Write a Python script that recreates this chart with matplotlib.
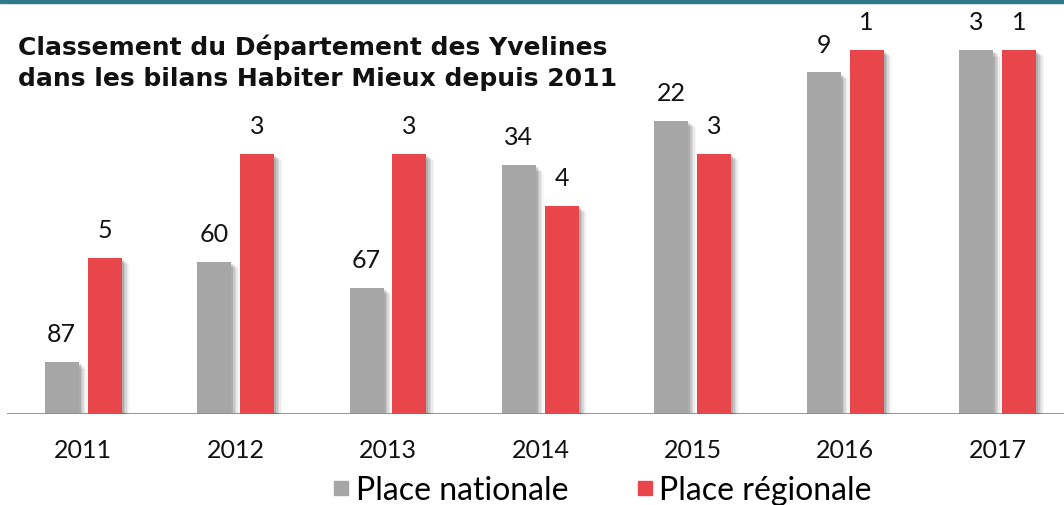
import matplotlib
matplotlib.use("Agg")
import matplotlib.pyplot as plt
from matplotlib.patches import Rectangle
from matplotlib.lines import Line2D
import numpy as np

years = ["2011", "2012", "2013", "2014", "2015", "2016", "2017"]
rang_national = [87, 60, 67, 34, 22, 9, 3]
rang_regional = [5, 3, 3, 4, 3, 1, 1]
series_names = ["Place nationale", "Place régionale"]
title = "Classement du Département des Yvelines\ndans les bilans Habiter Mieux depuis 2011"

GRAY = "#A6A6A6"
RED = "#E8464B"
TEAL = "#2E7A8C"
LABEL_FONT = ["Lato", "DejaVu Sans"]

W, H = 1064, 506
fig = plt.figure(figsize=(W / 100, H / 100), dpi=100)
fig.patch.set_facecolor("white")

# top teal rule
fig.patches.append(Rectangle((0, 1 - 4 / H), 1, 4 / H, transform=fig.transFigure,
                             color=TEAL, zorder=0))

base_px = 415
ax = fig.add_axes([7 / W, (H - base_px) / H, 1 - 7 / W, base_px / H])
ax2 = ax.twinx()

x = np.arange(len(years))
n_max = 101
r_max = 8
nat_h = [n_max - r for r in rang_national]
reg_h = [r_max - r for r in rang_regional]

px_unit = 152.4
bw = 34 / px_unit
off = 21.5 / px_unit
ax.set_xlim(-0.5, (W - 7) / px_unit - 0.5)
ax.set_ylim(0, base_px / 364 * 98)
ax2.set_ylim(0, base_px / 364 * 7)

# soft shadows
for k, a in enumerate([0.12, 0.09, 0.07, 0.05, 0.03]):
    d = (2 + k * 1.5) / px_unit
    ax.bar(x - off + d, nat_h, width=bw, color="black", alpha=a, zorder=1,
           bottom=-0.6 - k * 0.3)
    ax2.bar(x + off + d, reg_h, width=bw, color="black", alpha=a, zorder=1,
            bottom=-0.04 - k * 0.02)

ax.bar(x - off, nat_h, width=bw, color=GRAY, zorder=3)
ax2.bar(x + off, reg_h, width=bw, color=RED, zorder=3)

for xi, h, r in zip(x, nat_h, rang_national):
    ax.annotate(str(r), (xi - off, h), xytext=(0, 12), textcoords="offset points",
                ha="center", va="bottom", fontsize=18, family=LABEL_FONT,
                color="#111111", annotation_clip=False)
for xi, h, r in zip(x, reg_h, rang_regional):
    ax2.annotate(str(r), (xi + off, h), xytext=(0, 12), textcoords="offset points",
                 ha="center", va="bottom", fontsize=18, family=LABEL_FONT,
                 color="#111111", annotation_clip=False)

for a in (ax, ax2):
    for s in a.spines.values():
        s.set_visible(False)
    a.set_yticks([])
    a.patch.set_visible(False)
ax.axhline(0, color="#8C8C8C", lw=2, zorder=4)
ax.set_xticks(x)
ax.set_xticklabels(years, fontsize=18, family=LABEL_FONT, color="#111111")
ax.tick_params(axis="x", length=0, pad=17)
ax2.tick_params(axis="x", length=0)

fig.text(18 / W, 1 - 34 / H, title, ha="left", va="top", fontsize=18,
         fontweight="bold", family=["DejaVu Sans"], color="#111111", linespacing=1.42)

handles = [Line2D([], [], marker="s", ls="", color=GRAY, markersize=10),
           Line2D([], [], marker="s", ls="", color=RED, markersize=10)]
fig.legend(handles, series_names, loc="center", bbox_to_anchor=(600 / W, 1 - 491 / H),
           ncol=2, frameon=False, prop={"family": LABEL_FONT, "size": 23},
           handletextpad=0.05, columnspacing=2.0, handlelength=0.8)

fig.savefig("out.png", dpi=100)
